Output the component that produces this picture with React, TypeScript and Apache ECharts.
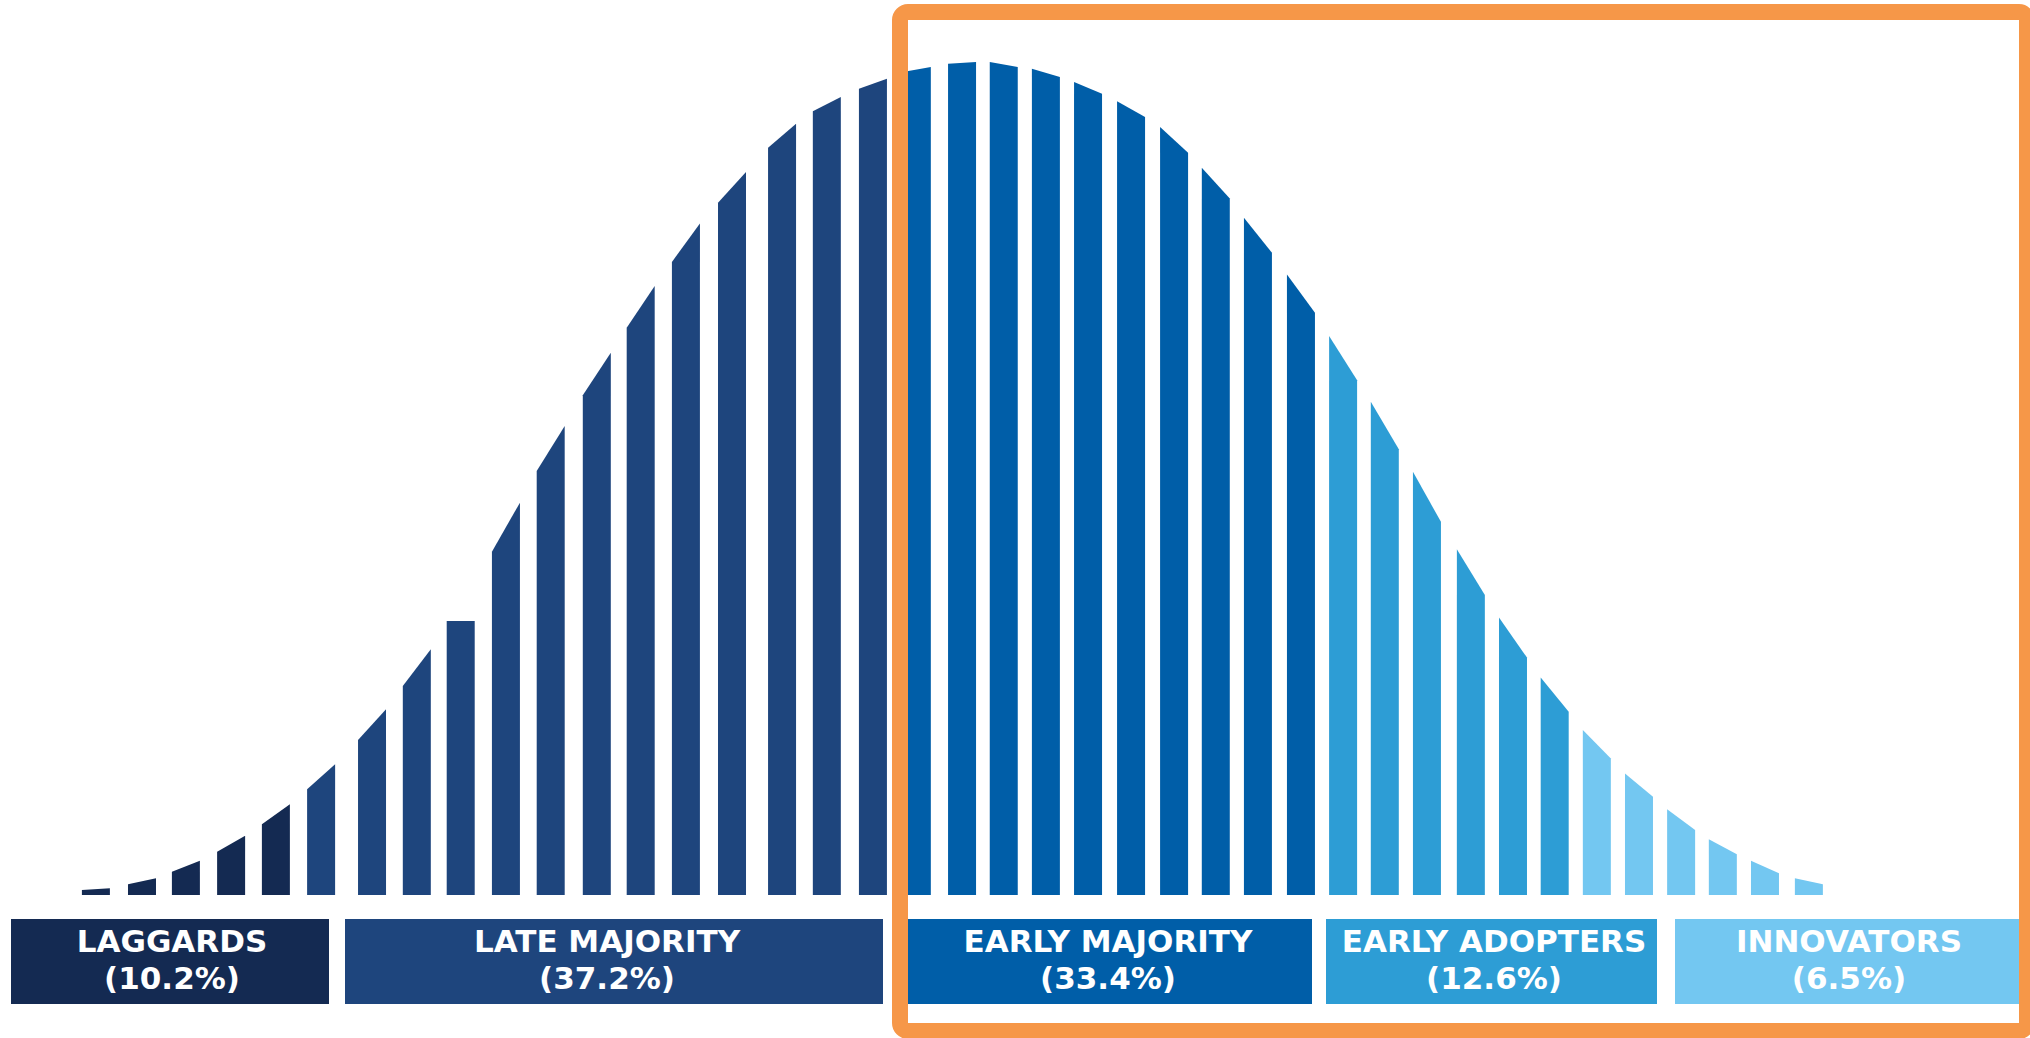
import React, { useEffect, useRef } from 'react';
import * as echarts from 'echarts';

// ---- Data ----
const segmentNames = ['LAGGARDS', 'LATE MAJORITY', 'EARLY MAJORITY', 'EARLY ADOPTERS', 'INNOVATORS'];
const segmentShares = ['(10.2%)', '(37.2%)', '(33.4%)', '(12.6%)', '(6.5%)'];
const segmentBarCounts = [5, 13, 10, 6, 6];

// position of each bar along the adoption timeline
const barPositions = [
  1.0, 2.05, 3.05, 4.08, 5.1, 6.13, 7.29, 8.31, 9.31, 10.34,
  11.36, 12.41, 13.41, 14.44, 15.49, 16.63, 17.65, 18.7, 19.7, 20.73,
  21.68, 22.64, 23.6, 24.58, 25.56, 26.51, 27.47, 28.45, 29.41, 30.36,
  31.32, 32.32, 33.28, 34.23, 35.19, 36.15, 37.11, 38.06, 39.02, 40.02,
];
// curve height at the left and right edge of each bar (peak = 100)
const barTopLeft = [
  0.6, 1.3, 2.8, 5.2, 8.5, 12.7, 18.6, 25.1, 32.9, 41.2,
  50.9, 60.0, 68.1, 76.0, 83.1, 89.7, 94.1, 96.8, 98.8, 99.8,
  100, 99.2, 97.6, 95.3, 92.2, 87.3, 81.3, 74.5, 67.1, 59.2,
  50.8, 41.5, 33.3, 26.1, 19.8, 14.6, 10.3, 6.7, 4.1, 2.0,
];
const barTopRight = [
  0.8, 2.0, 4.1, 7.1, 10.9, 15.7, 22.3, 29.5, 32.9, 47.1,
  56.3, 65.1, 73.1, 80.6, 86.8, 92.6, 95.8, 98.0, 99.4, 100,
  99.4, 98.2, 96.2, 93.4, 89.1, 83.6, 77.1, 69.9, 61.8, 53.5,
  44.8, 36.0, 28.5, 22.0, 16.4, 11.8, 7.8, 4.9, 2.6, 1.3,
];

// ---- Styles ----
const segmentColors = ['#142A52', '#1E457D', '#005EA8', '#2D9DD5', '#73C7F1'];
const ORANGE = '#F69748';
const FONT = '"DejaVu Sans", "Open Sans", sans-serif';

export default function App() {
  const ref = useRef<HTMLDivElement>(null);

  useEffect(() => {
    if (!ref.current) return;
    const chart = echarts.init(ref.current, null, { renderer: 'svg' });

    const segOf: number[] = [];
    segmentBarCounts.forEach((n, s) => {
      for (let i = 0; i < n; i++) segOf.push(s);
    });
    const data = barPositions.map((x, i) => [x, barTopLeft[i], barTopRight[i], segOf[i]]);

    const BAR_W = 28;

    // label box layout (pixels)
    const boxLayout = [
      { x0: 11, x1: 329, tx: 172 },
      { x0: 345, x1: 883, tx: 607 },
      { x0: 899, x1: 1312, tx: 1108 },
      { x0: 1326, x1: 1657, tx: 1494 },
      { x0: 1675, x1: 2023, tx: 1849 },
    ];
    const BOX_Y = 919;
    const BOX_H = 85;

    const textStyle = (text: string) => ({
      text,
      fill: '#ffffff',
      fontSize: 31,
      fontWeight: 'bold',
      fontFamily: FONT,
      align: 'center',
      verticalAlign: 'middle',
      textAlign: 'center',
      textVerticalAlign: 'middle',
    });

    const graphics: any[] = [];
    boxLayout.forEach((b, i) => {
      graphics.push({
        type: 'rect',
        z: 5,
        shape: { x: b.x0, y: BOX_Y, width: b.x1 - b.x0, height: BOX_H },
        style: { fill: segmentColors[i] },
      });
      graphics.push({ type: 'text', z: 6, x: b.tx, y: 941, style: textStyle(segmentNames[i]) });
      graphics.push({ type: 'text', z: 6, x: b.tx, y: 978, style: textStyle(segmentShares[i]) });
    });
    graphics.push({
      type: 'rect',
      z: 100,
      shape: { x: 900, y: 12, width: 1127, height: 1019, r: 8 },
      style: { fill: 'none', stroke: ORANGE, lineWidth: 16 },
    });

    chart.setOption({
      animation: false,
      backgroundColor: '#ffffff',
      grid: { left: 52, right: 2.5, top: 62, bottom: 143 },
      xAxis: { type: 'value', min: 0, max: 45, show: false },
      yAxis: { type: 'value', min: 0, max: 100, show: false },
      series: [
        {
          type: 'custom',
          silent: true,
          data,
          encode: { x: 0, y: [1, 2] },
          renderItem: (params: any, api: any) => {
            const x = api.value(0);
            const yl = api.value(1);
            const yr = api.value(2);
            const seg = api.value(3);
            const base = api.coord([x, 0]);
            const pl = api.coord([x, yl]);
            const pr = api.coord([x, yr]);
            const hw = BAR_W / 2;
            return {
              type: 'polygon',
              shape: {
                points: [
                  [base[0] - hw, base[1]],
                  [base[0] - hw, pl[1]],
                  [base[0] + hw, pr[1]],
                  [base[0] + hw, base[1]],
                ],
              },
              style: { fill: segmentColors[seg] },
            };
          },
        },
      ],
      graphic: graphics,
    });

    return () => {
      chart.dispose();
    };
  }, []);

  return (
    <div
      ref={ref}
      style={{ position: 'fixed', left: 0, top: 0, width: 2030, height: 1038, background: '#fff' }}
    />
  );
}
